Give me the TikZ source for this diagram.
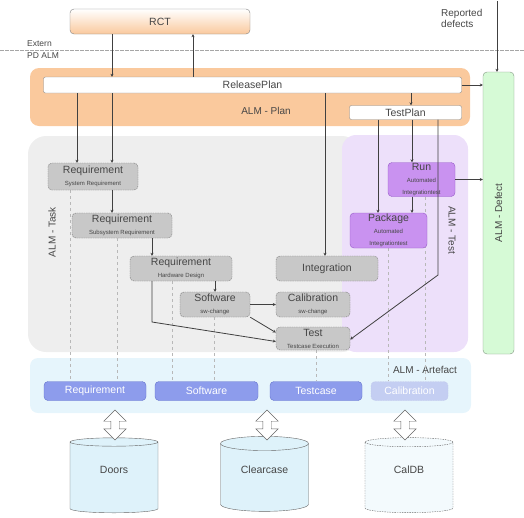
\documentclass[tikz,border=0pt]{standalone}
\usepackage{fontspec}
\setmainfont{Liberation Sans}
\usetikzlibrary{arrows.meta,shapes.geometric,shapes.arrows}

\definecolor{planorange}{RGB}{250,201,157}
\definecolor{taskregion}{RGB}{238,238,238}
\definecolor{testregion}{RGB}{237,224,250}
\definecolor{artregion}{RGB}{230,245,252}
\definecolor{taskfill}{RGB}{200,200,200}
\definecolor{taskline}{RGB}{125,125,125}
\definecolor{testfill}{RGB}{201,146,240}
\definecolor{testline}{RGB}{150,90,200}
\definecolor{artfill}{RGB}{141,156,236}
\definecolor{artline}{RGB}{100,115,205}
\definecolor{artfaint}{RGB}{196,206,242}
\definecolor{defectfill}{RGB}{214,250,214}
\definecolor{defectline}{RGB}{130,150,130}
\definecolor{dbfill}{RGB}{222,242,250}
\definecolor{textgray}{RGB}{70,70,70}

\newcommand{\subfont}{\fontsize{6}{8}\selectfont}

\tikzset{
  link/.style={draw=black!75, line width=0.8pt, -{Stealth[length=3pt,width=3pt]}},
  trace/.style={draw=black!28, line width=0.6pt, dash pattern=on 3pt off 3pt},
  basebox/.style={rounded corners=4pt, inner sep=0pt, align=center, text=textgray,
    font=\fontsize{10.5}{12}\selectfont},
  taskbox/.style={basebox, draw=taskline, fill=taskfill, dash pattern=on 1.5pt off 0.8pt},
  testbox/.style={basebox, draw=testline, fill=testfill},
  planbox/.style={basebox, rounded corners=2pt, draw=black!45, fill=white},
  artbox/.style={basebox, draw=artline, fill=artfill, text=white, minimum height=19pt},
  dbase/.style={cylinder, shape border rotate=90, aspect=0.3, draw=black!60, fill=dbfill,
    minimum width=88pt, minimum height=75pt, inner sep=0pt,
    font=\fontsize{10.5}{12}\selectfont},
  dbarrow/.style={double arrow, shape border rotate=90, draw=black!60, fill=white,
    minimum height=30pt, minimum width=22pt, inner sep=4pt,
    double arrow head extend=7pt},
  lbl/.style={text=textgray, font=\fontsize{10}{11}\selectfont, inner sep=0pt}
}

\begin{document}
\begin{tikzpicture}[x=1pt,y=-1pt]
  \useasboundingbox (0,0) rectangle (524,517);

  % regions
  \fill[planorange, rounded corners=9pt] (30,68) rectangle (470,126);
  \fill[taskregion, rounded corners=18pt] (28,136) rectangle (360,352);
  \fill[testregion, rounded corners=14pt] (342,135) rectangle (468,352);
  \fill[artregion, rounded corners=8pt] (30,358) rectangle (471,413);
  \draw[black!35, line width=0.6pt, dash pattern=on 4pt off 1pt] (0,50) -- (524,50);

  \node[lbl, anchor=west, font=\fontsize{8.5}{9}\selectfont] (extern) at (27,44) {Extern};
  \node[lbl, anchor=west, font=\fontsize{8.5}{9}\selectfont] (pdalm) at (27,56) {PD ALM};
  \node[lbl, anchor=north west, align=left] (reported) at (441,9) {Reported\\defects};

  \node[lbl] (planlbl) at (266,111) {ALM - Plan};
  \node[lbl, rotate=90] (tasklbl) at (52,232) {ALM - Task};
  \node[lbl, rotate=-90] (testlbl) at (452,230) {ALM - Test};
  \node[lbl] (artlbl) at (425,370) {ALM - Artefact};

  % plan
  \node[basebox, draw=black!50, top color=white, bottom color=planorange,
    minimum width=180pt, minimum height=25pt] (rct) at (160,21.5) {RCT};
  \node[planbox, minimum width=418pt, minimum height=16pt] (release) at (252.5,85) {ReleasePlan};
  \node[planbox, minimum width=112pt, minimum height=14pt] (testplan) at (405.5,112.5) {TestPlan};
  \node[basebox, draw=defectline, fill=defectfill, minimum width=31pt, minimum height=282pt]
    (defect) at (498.5,213) {};
  \node[lbl, rotate=90] (defectlbl) at (defect.center) {ALM - Defect};

  % artefacts
  \node[artbox, minimum width=102pt] (areq) at (95,391) {Requirement};
  \node[artbox, minimum width=103pt] (asw) at (206.5,391) {Software};
  \node[artbox, minimum width=92pt] (atc) at (316,391) {Testcase};
  \node[artbox, draw=artline!40, fill=artfaint, dash pattern=on 1.5pt off 1pt,
    minimum width=77pt] (acal) at (409.5,391) {Calibration};

  % dashed traces to the artefacts
  \draw[trace] (70,190) -- (70,0 |- areq.north);
  \draw[trace] (117,238) -- (117,0 |- areq.north);
  \draw[trace] (172,281) -- (172,0 |- asw.north);
  \draw[trace] (214,317) -- (214,0 |- asw.north);
  \draw[trace] (316,350) -- (316,0 |- atc.north);
  \draw[trace] (388,248) -- (388,0 |- acal.north);
  \draw[trace] (425,197) -- (425,0 |- acal.north);

  % tasks
  \node[taskbox, minimum width=90pt, minimum height=27pt] (req1) at (93,176.5)
    {Requirement\\\subfont System Requirement};
  \node[taskbox, minimum width=100pt, minimum height=25pt] (req2) at (122,225.5)
    {Requirement\\\subfont Subsystem Requirement};
  \node[taskbox, minimum width=102pt, minimum height=25pt] (req3) at (181,268.5)
    {Requirement\\\subfont Hardware Design};
  \node[taskbox, minimum width=70pt, minimum height=25pt] (sw) at (215,304.5)
    {Software\\\subfont sw-change};
  \node[taskbox, minimum width=102pt, minimum height=25pt] (integ) at (327,268.5) {Integration};
  \node[taskbox, minimum width=74pt, minimum height=25pt] (calib) at (313,304.5)
    {Calibration\\\subfont sw-change};
  \node[taskbox, minimum width=74pt, minimum height=23pt] (test) at (313,338.5)
    {Test\\\subfont Testcase Execution};
  \node[testbox, minimum width=67pt, minimum height=34pt] (run) at (421.5,179.5)
    {Run\\\subfont Automated\\\subfont Integrationtest};
  \node[testbox, minimum width=77pt, minimum height=35pt] (pkg) at (388.5,230.5)
    {Package\\\subfont Automated\\\subfont Integrationtest};

  % databases
  \node[dbase] (doors) at (114,477.5) {\phantom{Doors}};
  \node[dbase] (clear) at (264.5,477.5) {\phantom{Clearcase}};
  \node[dbase, fill=dbfill!35, dash pattern=on 1.5pt off 1pt] (caldb) at (409,477.5) {\phantom{CalDB}};
  \node[lbl, font=\fontsize{10.5}{12}\selectfont] (doorslbl) at ([yshift=8pt]doors.center) {Doors};
  \node[lbl, font=\fontsize{10.5}{12}\selectfont] (clearlbl) at ([yshift=8pt]clear.center) {Clearcase};
  \node[lbl, font=\fontsize{10.5}{12}\selectfont] (caldblbl) at ([yshift=8pt]caldb.center) {CalDB};
  \node[dbarrow] (sync1) at (115,425) {};
  \node[dbarrow] (sync2) at (267,425) {};
  \node[dbarrow] (sync3) at (405,425) {};

  % connectors
  \coordinate (defects) at (497,1);
  \coordinate (bendreq) at (152,322);
  \coordinate (bendtest) at (438,275);
  \draw[link] (defects) -- (defects |- defect.north);
  \draw[link] (112,0 |- rct.south) -- (112,0 |- release.north);
  \draw[link] (193,0 |- release.north) -- (193,0 |- rct.south);
  \draw[link] (77,0 |- release.south) -- (77,0 |- req1.north);
  \draw[link] (112,0 |- release.south) -- (112,0 |- req1.north);
  \draw[link] (112,0 |- req1.south) -- (112,0 |- req2.north);
  \draw[link] (152,0 |- req2.south) -- (152,0 |- req3.north);
  \draw[link] (req3.south -| sw.north) -- (sw.north);
  \draw[link] (bendreq |- req3.south) -- (bendreq) -- ([yshift=-3pt]test.west);
  \draw[link] (sw.south east) -- ([yshift=6pt]test.west);
  \draw[link] (sw.east) -- (sw.east -| calib.west);
  \draw[link] (325,0 |- release.south) -- (325,0 |- integ.north);
  \draw[link] (411,0 |- release.south) -- (411,0 |- testplan.north);
  \draw[link] (378,0 |- testplan.south) -- (378,0 |- pkg.north);
  \draw[link] (412,0 |- testplan.south) -- (412,0 |- run.north);
  \draw[link] (bendtest |- testplan.south) -- (bendtest) -- ([yshift=-1pt]test.east);
  \draw[link] (412,0 |- run.south) -- (412,0 |- pkg.north);
  \draw[link] (release.east) -- (release.east -| defect.west);
  \draw[link] (run.east) -- (run.east -| defect.west);
\end{tikzpicture}
\end{document}
